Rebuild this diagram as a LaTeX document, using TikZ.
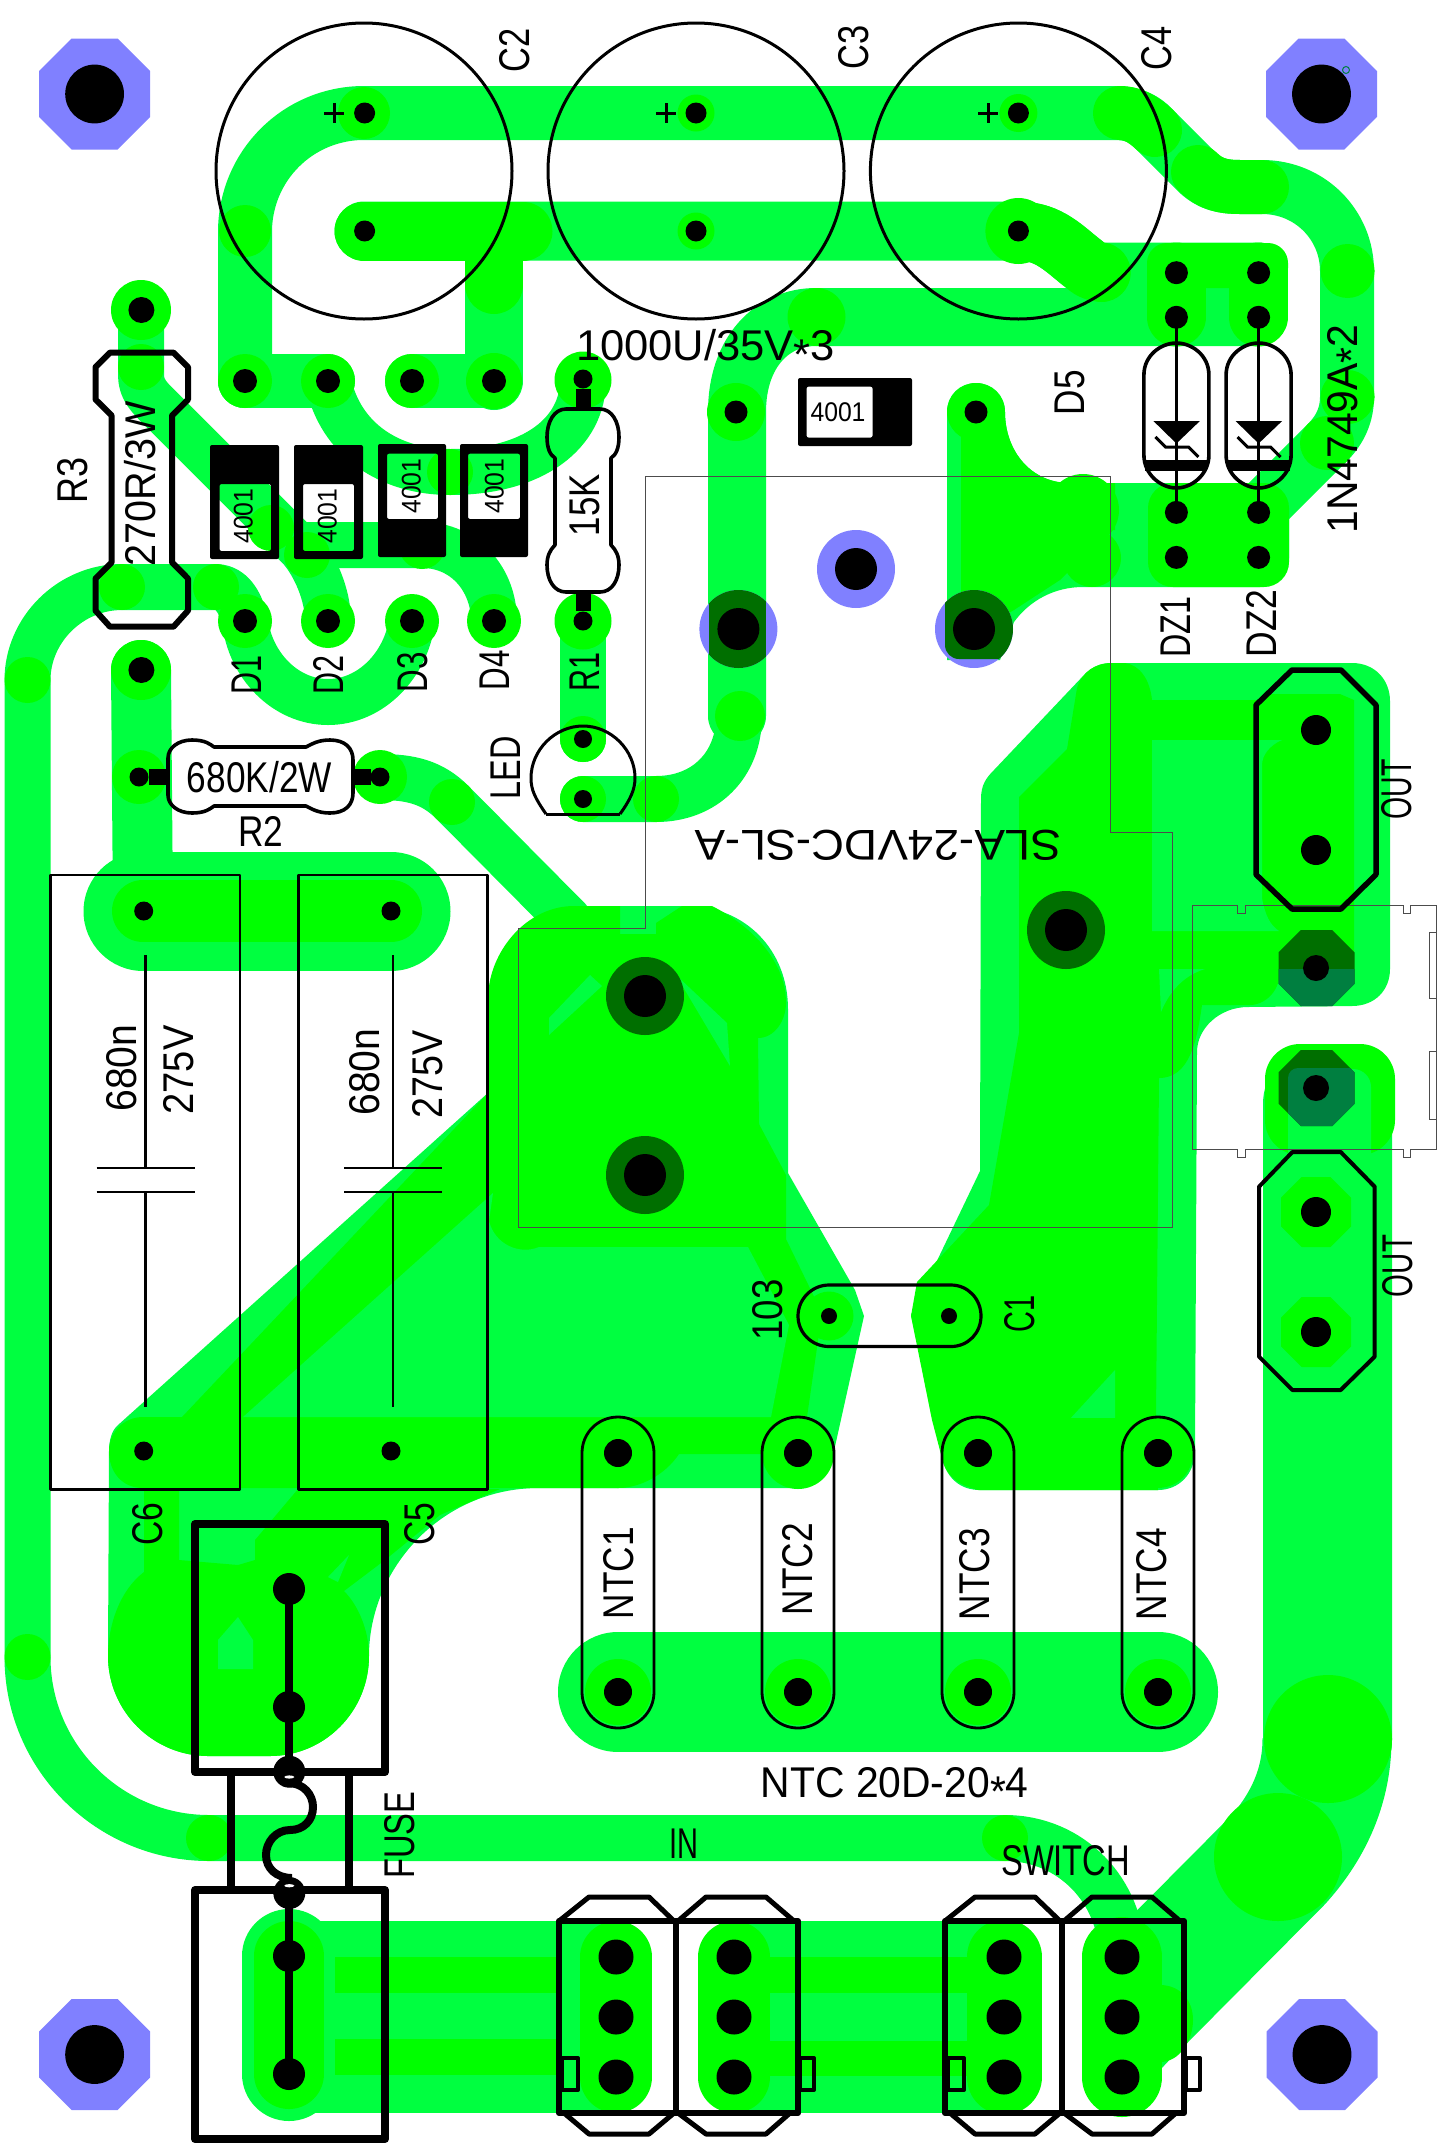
\documentclass[tikz,border=0pt]{standalone}
\usepackage{fontspec}
\usepackage{graphicx}
\setmainfont{Liberation Sans}
\definecolor{lt}{HTML}{00FF40}
\definecolor{dk}{HTML}{00FF00}
\definecolor{bl}{HTML}{8080FF}
\definecolor{ol}{HTML}{006F00}
\definecolor{te}{HTML}{007F40}
\newcommand\fitw[2]{\sbox0{#2}\pgfmathsetmacro\rr{#1/\the\wd0}\scalebox{\rr}[1]{#2}}
% name x y rotation width text
\newcommand\lb[6]{\node[lbl,rotate=#4] (#1) at (#2,#3) {\fitw{#5}{#6}};}
\newcommand\sm[6]{\node[lbls,rotate=#4] (#1) at (#2,#3) {\fitw{#5}{#6}};}
\newcommand\oct[4]{\fill[#4] ({#1-#3},{#2-.414*#3}) -- ({#1-.414*#3},{#2-#3}) -- ({#1+.414*#3},{#2-#3}) -- ({#1+#3},{#2-.414*#3}) -- ({#1+#3},{#2+.414*#3}) -- ({#1+.414*#3},{#2+#3}) -- ({#1-.414*#3},{#2+#3}) -- ({#1-#3},{#2+.414*#3}) -- cycle;}
\newcommand\octclip[3]{\clip ({#1-#3},{#2-.414*#3}) -- ({#1-.414*#3},{#2-#3}) -- ({#1+.414*#3},{#2-#3}) -- ({#1+#3},{#2-.414*#3}) -- ({#1+#3},{#2+.414*#3}) -- ({#1+.414*#3},{#2+#3}) -- ({#1-.414*#3},{#2+#3}) -- ({#1-#3},{#2+.414*#3}) -- cycle;}
\newcommand\diode[8]{\fill[black,rounded corners=2,even odd rule] (#1,#2) rectangle (#3,#4) (#5,#6) rectangle (#7,#8);}
\newcommand\dzs[1]{%
 \draw[line width=3] (#1,317) -- (#1,512);
 \draw[ol3] (#1-32.5,375) .. controls (#1-32.5,355) and (#1-15,343) .. (#1,343) .. controls (#1+15,343) and (#1+32.5,355) .. (#1+32.5,375) -- (#1+32.5,455) .. controls (#1+32.5,475) and (#1+15,488) .. (#1,488) .. controls (#1-15,488) and (#1-32.5,475) .. (#1-32.5,455) -- cycle;
 \fill (#1-31,460) rectangle (#1+31,471);
 \fill (#1-23,421) -- (#1+23.5,421) -- (#1,443.5) -- cycle;
 \draw[line width=3] (#1-21,437) -- (#1-11,447) -- (#1+12,447) -- (#1+22,457);
}
\newcommand\conn{%
 \draw[ol3,line width=6,line join=round] (945,1921) rectangle (1062,2113);
 \draw[ol3,line width=6,line join=round] (1062,1921) rectangle (1184,2113);
 \draw[ol3,line width=5,line join=round] (945,1921) -- (975,1897) -- (1035,1897) -- (1060,1921);
 \draw[ol3,line width=5,line join=round] (1064,1921) -- (1092,1897) -- (1152,1897) -- (1180,1921);
 \draw[ol3,line width=5,line join=round] (950,2113) -- (975,2134) -- (1035,2134) -- (1060,2113);
 \draw[ol3,line width=5,line join=round] (1064,2113) -- (1092,2134) -- (1152,2134) -- (1176,2113);
 \draw[line width=4,line join=round] (948,2058) rectangle (964,2090);
 \draw[line width=4,line join=round] (1186,2058) rectangle (1200,2090);
}
\tikzset{
 tr/.style={draw=lt,line cap=round,line join=round,line width=#1},
 td/.style={draw=dk,line cap=round,line join=round,line width=#1},
 ol3/.style={line width=3.6,line join=round},
 thin1/.style={draw=black!70,line width=1},
 lbl/.style={font=\fontsize{43}{43}\selectfont,inner sep=0pt,text depth=0pt,text height=31pt,text=black},
 lbls/.style={font=\fontsize{27}{27}\selectfont,inner sep=0pt,text depth=0pt,text height=19pt,text=black},
}
\begin{document}
\begin{tikzpicture}[x=1pt,y=-1pt]
\useasboundingbox (0,0) rectangle (1441,2150);
\fill[white] (0,0) rectangle (1441,2150);
% mounting pads
\oct{94.6}{94}{55.5}{bl}
\oct{1321.5}{94}{55.5}{bl}
\oct{94.6}{2054.5}{55.5}{bl}
\oct{1322}{2054.5}{55.5}{bl}
\fill[bl] (856,569) circle (39);
% ===== light copper tracks
\draw[tr=54] (245,381) -- (245,232) .. controls (245,166) and (298,113) .. (364,113) -- (1115,113) .. controls (1128,113) and (1140,116) .. (1150,125) -- (1198,173) .. controls (1210,184) and (1222,187) .. (1240,187) -- (1262,187) .. controls (1310,187) and (1347,225) .. (1347,271) -- (1347,397) .. controls (1347,415) and (1340,430) .. (1327,443) -- (1258,512);
\draw[tr=54] (245,381) -- (328,381);
\draw[tr=54] (412,381) -- (494,381);
\draw[tr=59] (364,231) -- (1018,231) .. controls (1050,231) and (1065,250) .. (1085,265) .. controls (1090,270) and (1095,272) .. (1101,272) -- (1258,272);
\draw[tr=58] (494,381) -- (494,231);
\draw[tr=58] (1258,317) -- (816,317) .. controls (772,317) and (737,352) .. (737,412) -- (737,716);
\draw[tr=46] (739,716) .. controls (739,765) and (705,799) .. (656,799) -- (583,799);
\draw[tr=46] (583,621) -- (583,739);
\draw[tr=46] (328,381) .. controls (340,440) and (390,472) .. (450,472) .. controls (535,472) and (583,432) .. (583,380);
\draw[tr=46] (141,310) -- (141,375) .. controls (141,390) and (150,398) .. (160,408) -- (300,548) .. controls (315,565) and (328,595) .. (328,621);
\draw[tr=46] (307,545) -- (422,545) .. controls (465,545) and (494,580) .. (494,621);
\draw[tr=46] (245,621) .. controls (250,665) and (285,702) .. (328,702) .. controls (371,702) and (406,665) .. (412,621);
\draw[tr=46] (245,621) .. controls (240,600) and (230,587) .. (216,587) -- (122,587) .. controls (70,587) and (27.5,630) .. (27.5,680) -- (27.5,1657) .. controls (27.5,1757) and (109,1838) .. (209,1838) -- (1005,1838) .. controls (1071,1838) and (1122,1891) .. (1122,1957);
\draw[tr=60] (141,670) -- (143,911);
\draw[tr=119] (143,911) -- (391,911);
\draw[tr=46] (380,777) .. controls (410,777) and (432,782) .. (452,802) -- (569,920);
\draw[tr=120] (618,1692) -- (1158,1692);
% left big area
\fill[lt,line join=round] (118,1425) .. controls (112,1430) and (109,1440) .. (109,1451) -- (108,1656) .. controls (108,1711) and (153,1756) .. (208,1756) -- (270,1756) .. controls (325,1756) and (369,1711) .. (369,1656) .. controls (369,1570) and (440,1488) .. (539,1488) -- (799,1488) .. controls (815,1488) and (828,1475) .. (834,1451) -- (864,1316) -- (855,1290) -- (788,1173) -- (788,1009) .. controls (788,950) and (745,906) .. (687,906) -- (585,906) .. controls (530,906) and (489,950) .. (489,998) -- (489,1092) -- cycle;
% right big area
\fill[lt,line join=round] (981,799) .. controls (981,785) and (986,778) .. (994,770) -- (1084,675) .. controls (1092,667) and (1100,663) .. (1112,663) -- (1352,663) .. controls (1375,663) and (1390,680) .. (1390,701) -- (1390,969) .. controls (1390,990) and (1375,1006) .. (1352,1006) -- (1248,1007) .. controls (1220,1007) and (1197,1028) .. (1197,1052) -- (1195,1450) .. controls (1195,1475) and (1178,1490) .. (1158,1490) -- (980,1490) .. controls (960,1490) and (948,1478) .. (943,1462) -- (911,1315) -- (980,1171) -- cycle;
% output track
\fill[lt,rounded corners=60] (1263,1800) -- (1263,1044) -- (1392,1044) -- (1392,1800) -- cycle;
\draw[draw=lt,line width=129,line join=round] (1130,2009) -- (1278,1860) .. controls (1305,1830) and (1327,1790) .. (1327,1739);
\fill[lt] (1175,2054) -- (1160,2070) -- (1160,2040) -- cycle;
\draw[draw=lt,line width=129] (1327,1745) -- (1327,1400);
% fuse / connector bands
\draw[tr=94] (289,1956) -- (289,2074);
\fill[lt] (289,1921) rectangle (616,2113);
\fill[lt] (734,1921) rectangle (1004,2113);
% D5 area
\fill[lt] (947,412) .. controls (947,395) and (960,383) .. (976,383) .. controls (992,383) and (1005,395) .. (1005,412) .. controls (1005,450) and (1030,483) .. (1070,483) -- (1260,483) .. controls (1278,483) and (1289,495) .. (1289,512) -- (1289,558) .. controls (1289,575) and (1278,587) .. (1260,587) -- (1083,587) .. controls (1055,587) and (1030,600) .. (1014,622) -- (1000,660) -- (947,660) -- cycle;
% ===== brighter copper
\draw[td=59] (364,231) -- (523,231);
\draw[td=58] (494,231) -- (494,285);
\draw[td=59] (1018,231) .. controls (1050,231) and (1065,250) .. (1085,265) .. controls (1090,270) and (1095,272) .. (1101,272);
\fill[dk,rounded corners=20] (1147,243) rectangle (1288,288);
\draw[td=59] (1176,272) -- (1176,317);
\draw[td=59] (1258,272) -- (1258,317);
\draw[td=54] (1120,113) .. controls (1132,113) and (1142,118) .. (1155,130);
\draw[td=54] (1198,172) .. controls (1210,184) and (1222,187) .. (1240,187) -- (1262,187);
\draw[td=62] (143,911) -- (391,911);
% dots where tracks meet
\foreach \x/\y/\r in {245/231/26,1347.6/271/27,1347.6/397/27,1327/443/27,816.5/317/29,1101.6/273/29,740/716/25,656/799/23,452/802/23,122/587/23,216/587/23,27.5/680/23,27.5/1657/23,209/1838/23,1005/1838/23,141/367/23,271/528/23,307/555/23,422/546/23,450/472/23,364/113/26,696/113/18.5,1018.4/113/19,696/231/18.5,1018.4/231/33,364/231/29,736/412/29,976/412/29,245/381/27,328/381/27,412/381/27,494/381/28,245/621/27,328/621/27,412/621/27,494/621/27,583/380/28.5,583/621/28.5,141/310/30,141/670/30,139/777/27,380/777/27,583/739/23,583/799/23,618/1692/33,798/1692/33,978/1692/33,1158/1692/33,829/1316/24.5}
 {\fill[dk] (\x,\y) circle (\r);}
% left dark area
\fill[dk,line join=round] (489,986) .. controls (495,945) and (530,906) .. (574,906) -- (620,906) -- (620,934) -- (656,934) -- (656,923) -- (682,906) -- (712,906) .. controls (750,925) and (786,960) .. (786,1003) .. controls (786,1020) and (775,1038) .. (758,1038) -- (759,1124) -- (786,1175) -- (786,1239) -- (822,1313) -- (807,1417) -- (806,1454) -- (679,1454) .. controls (665,1475) and (640,1488) .. (618,1488) -- (559,1488) -- (143,1488) .. controls (122,1488) and (109,1472) .. (109,1451) .. controls (109,1432) and (124,1417) .. (143,1417) -- (182,1417) -- (489,1092) -- cycle;
\fill[lt] (243,1417) -- (493,1193) -- (489,1221) .. controls (495,1245) and (520,1255) .. (539,1247) -- (748,1247) -- (789,1325) -- (771,1417) -- cycle;
\fill[lt] (549,1018) -- (590,975) -- (602,986) -- (549,1035) -- cycle;
\fill[lt] (676,975) -- (727,1023) -- (730,1066) -- cycle;
\fill[dk] (618,1453) circle (35);
\fill[dk] (798,1453) circle (36);
% fuse blob dark
\fill[dk,line join=round] (144,1488) -- (144,1572) .. controls (120,1590) and (108,1625) .. (108,1656) .. controls (108,1711) and (153,1756) .. (208,1756) -- (270,1756) .. controls (325,1756) and (369,1711) .. (369,1656) .. controls (369,1630) and (358,1605) .. (344,1591) -- (385,1560) -- (440,1515) -- (500,1489) -- (298,1489) -- (255,1540) -- (255,1560) -- (238,1565) -- (179,1560) -- (179,1489) -- cycle;
\fill[lt] (218,1669) -- (218,1640) -- (238,1617) -- (253,1640) -- (253,1669) -- cycle;
\fill[lt] (328,1577) -- (349,1555) -- (338,1582) -- cycle;
% right dark area
\fill[dk,line join=round] (1019,797) -- (1067,749) -- (1077,688) .. controls (1082,672) and (1095,663) .. (1112,663) -- (1125,663) .. controls (1140,665) and (1150,680) .. (1152,700) -- (1262,700) -- (1266,694) -- (1340,694) -- (1354,700) -- (1354,969) -- (1279,969) .. controls (1282,990) and (1265,1005) .. (1250,1005) -- (1202,1005) .. controls (1197,1040) and (1190,1078) .. (1159,1078) -- (1156,1416) -- (1158,1490) -- (978,1490) .. controls (960,1485) and (948,1478) .. (943,1462) -- (932,1420) -- (911,1316) -- (917,1282) -- (989,1205) -- (1019,1033) -- cycle;
\fill[lt] (1152,740) -- (1282,740) .. controls (1270,745) and (1262,755) .. (1262,765) -- (1262,898) .. controls (1265,915) and (1270,925) .. (1279,931) -- (1152,931) -- cycle;
\fill[lt] (1159,969) -- (1205,969) .. controls (1185,975) and (1170,990) .. (1161,1012) -- cycle;
\fill[lt] (1115,1370) -- (1069,1420) -- (1115,1420) -- cycle;
\draw[td=70] (978,1453) -- (1158,1453);
% D5 bright
\fill[dk,line join=round] (961,412) -- (1005,412) .. controls (1005,450) and (1030,483) .. (1070,483) -- (1115,483) -- (1115,530) -- (1085,530) -- (1080,560) -- (1060,580) -- (1014,610) -- (961,640) -- cycle;
\fill[dk] (1083,510) circle (36);
\fill[dk] (1092,558) circle (29);
\fill[dk,rounded corners=25] (1148,483) rectangle (1289,587);
% output lower region bright
\fill[dk,rounded corners=35] (1265,1044) rectangle (1395,1155);
\fill[lt,rounded corners=18] (1288,1069) rectangle (1371,1180);
\fill[lt] (1288,1130) rectangle (1371,1180);
% lobes on output track
\fill[dk] (1328,1739) circle (64);
\fill[dk] (1278,1857) circle (64);
\oct{1316}{1212}{35}{dk}
\oct{1316}{1332}{35}{dk}
% connector pads
\draw[td=70] (289,1956) -- (289,2074);
\fill[dk] (335,1957) rectangle (560,1993);
\fill[dk] (335,2039) rectangle (560,2075);
\fill[dk] (770,1957) rectangle (967,1993);
\fill[dk] (770,2041) rectangle (967,2076);
\draw[td=72] (616,1957) -- (616,2077);
\draw[td=72] (734,1957) -- (734,2077);
\draw[td=75] (1004,1957) -- (1004,2077);
\draw[td=80] (1122,1957) -- (1122,2077);
\fill[dk] (1160,1985) .. controls (1180,1985) and (1193,2000) .. (1193,2020) .. controls (1193,2040) and (1180,2062) .. (1160,2062) -- cycle;
% dark-green pads
\foreach \x/\y in {645/996,645/1175,1066/930} {\fill[ol] (\x,\y) circle (39);}
\fill[bl] (738.4,629) circle (39);
\fill[bl] (974,629) circle (39);
\begin{scope}
 \clip (738.4,629) circle (39);
 \fill[ol] (709,580) rectangle (766,680);
\end{scope}
\begin{scope}
 \clip (974,629) circle (39);
 \fill[ol,rounded corners=14] (945,585) rectangle (1013,659);
\end{scope}
\oct{1316.5}{968}{38}{ol}
\begin{scope}
 \octclip{1316.5}{968}{38}
 \fill[te] (1270,969) rectangle (1360,1010);
\end{scope}
\oct{1316.5}{1088}{38}{ol}
\begin{scope}
 \octclip{1316.5}{1088}{38}
 \fill[te,rounded corners=10] (1288,1068) rectangle (1371,1130);
\end{scope}
% ===== drill holes
\foreach \x/\y/\r in {94.6/94/29.4,1321.5/94/29.4,94.6/2054.5/29.4,1322/2054.5/29.4,
 364.6/113/10.5,364.6/231/10.5,696/113/10.5,696/231/10.5,1018.4/113/10.5,1018.4/231/10.5,
 141.4/310/13,141.4/670/13,245/381/12,328/381/12,412/381/12,494/381/12,245/621/12,328/621/12,412/621/12,494/621/12,
 583/379/9.5,583/621/9.5,583/739/9,583/799/9,139/777/9.5,380/777/9.5,
 143.7/911/9.5,391/911/9.5,143.7/1451/9.5,391/1451/9.5,736/412/11.5,976/412/11.5,
 1176.4/272.7/11.5,1176.4/317.3/11.5,1176.4/512.4/11.5,1176.4/557.4/11.5,1258.6/272.7/11.5,1258.6/317.3/11.5,1258.6/512.4/11.5,1258.6/557.4/11.5,
 738.4/629/21,974/629/21,856/569/21,645/996/21,645/1175/21,1066/930/21,
 1316/730/15,1316/850/15,1316/968/13,1316/1088/13,1316/1212/15,1316/1332/15,
 829/1316/8,949/1316/8,
 618/1453/14,798/1453/14,978/1453/14,1158/1453/14,618/1692/14,798/1692/14,978/1692/14,1158/1692/14,
 289/1589/16,289/1707/16,289.3/1771.7/16,289.3/1893/16,289/1956/16,289/2074/16,
 616/1957/17.5,616/2017/17.5,616/2077/17.5,734/1957/17.5,734/2017/17.5,734/2077/17.5,
 1004/1957/17.5,1004/2017/17.5,1004/2077/17.5,1122/1957/17.5,1122/2017/17.5,1122/2077/17.5}
 {\fill[black] (\x,\y) circle (\r);}
\draw[draw=te,line width=1] (1346,70) circle (3.5);
% ===== silkscreen
\foreach \x in {364,696,1018.4} {\draw[line width=3] (\x,171) circle (148);}
\foreach \x in {334,666,988} {\draw[line width=3] (\x-10,113) -- (\x+10,113) (\x,103) -- (\x,123);}
% R3
\draw[line width=6,line join=round] (110,352.6) -- (173.5,352.6) -- (188,367) -- (188,399.5) -- (172,415.5) -- (172,562.4) -- (188,578.5) -- (188,610.6) -- (173.5,626.7) -- (110,626.7) -- (95.5,610.6) -- (95.5,578.5) -- (111.6,562.4) -- (111.6,415.5) -- (95.5,399.5) -- (95.5,367) -- cycle;
% diodes
\diode{210}{445}{279}{559}{219.5}{484}{271}{551}
\diode{294}{445}{363}{559}{303}{484}{354}{551}
\diode{378}{444}{446}{557}{387}{453.6}{438}{519}
\diode{460}{444}{528}{557}{468}{453.6}{520}{519}
\diode{798}{378}{912}{446}{806.5}{386.6}{872.6}{437.6}
% R1 dogbone
\draw[line width=3.6,line join=round] (566,409) -- (600,409) .. controls (612,409) and (619,422) .. (619,437) .. controls (619,448) and (616,455) .. (611,458) -- (611,545) .. controls (616,550) and (619,556) .. (619,565) .. controls (619,580) and (612,592) .. (600,592) -- (566,592) .. controls (554,592) and (547,580) .. (547,565) .. controls (547,556) and (550,550) .. (555,545) -- (555,458) .. controls (550,455) and (547,448) .. (547,437) .. controls (547,422) and (554,409) .. (566,409) -- cycle;
\fill (576,389) rectangle (591,409);
\fill (576,592) rectangle (591,611);
% R2 dogbone
\draw[line width=3.6,line join=round] (168,758) .. controls (168,748) and (178,740) .. (192,740) .. controls (205,740) and (210,744) .. (214,747) -- (306,747) .. controls (312,744) and (318,740) .. (330,740) .. controls (345,740) and (353,748) .. (353,760) -- (353,793) .. controls (353,805) and (345,813) .. (330,813) .. controls (318,813) and (312,809) .. (306,806) -- (214,806) .. controls (210,809) and (205,813) .. (192,813) .. controls (178,813) and (168,805) .. (168,795) -- cycle;
\fill (149,769) rectangle (168,785);
\fill (353,769) rectangle (371,785);
% DZ
\dzs{1176.4}
\dzs{1258.6}
% LED
\draw[line width=3] (546,814) -- (620,814);
\draw[line width=3] (546,814) .. controls (535,798) and (531,790) .. (531,778) .. controls (531,750) and (555,726) .. (583,726) .. controls (611,726) and (635,750) .. (635,778) .. controls (635,790) and (630,800) .. (620,814);
% Caps
\foreach \x/\xa/\xb in {50.5/240/145.5,298.4/487.6/393}
{\draw[line width=2.8,line join=round] (\x,875) rectangle (\xa,1489.5);
 \draw[line width=2.8] (\xb,955) -- (\xb,1168) (\xb,1192) -- (\xb,1407);
 \draw[line width=2.8] (\xb-49,1168) -- (\xb+49,1168) (\xb-49,1192) -- (\xb+49,1192);}
% Relay outline
\draw[thin1] (645.5,476) -- (1110,476) -- (1110,832) -- (1172,832) -- (1172,1227) -- (518,1227) -- (518,928.6) -- (645.5,928.6) -- cycle;
% small connector
\draw[thin1] (1192,905) -- (1237,905) -- (1237,913) -- (1245.5,913) -- (1245.5,905) -- (1403,905) -- (1403,913) -- (1410.6,913) -- (1410.6,905) -- (1436,905) -- (1436,1149) -- (1410.6,1149) -- (1410.6,1157) -- (1403,1157) -- (1403,1149) -- (1245.5,1149) -- (1245.5,1157) -- (1237,1157) -- (1237,1149) -- (1192,1149) -- cycle;
\draw[thin1] (1436,932) -- (1429,932) -- (1429,998) -- (1436,998);
\draw[thin1] (1436,1051) -- (1429,1051) -- (1429,1119) -- (1436,1119);
% OUT octagons
\draw[line width=5.5,line join=round] (1292,670) -- (1341,670) -- (1376,705) -- (1376,874.5) -- (1341,909) -- (1292,909) -- (1256,874.5) -- (1256,705) -- cycle;
\draw[line width=4,line join=round] (1292.4,1152) -- (1340.7,1152) -- (1374.7,1186.7) -- (1374.7,1356.6) -- (1340.7,1390) -- (1292.4,1390) -- (1259,1356.6) -- (1259,1186.7) -- cycle;
% C1 stadium
\draw[line width=3.2] (829,1285) -- (951,1285) .. controls (968,1285) and (981,1299) .. (981,1316) .. controls (981,1333) and (968,1346.5) .. (951,1346.5) -- (829,1346.5) .. controls (812,1346.5) and (798,1333) .. (798,1316) .. controls (798,1299) and (812,1285) .. (829,1285) -- cycle;
% NTC stadiums
\foreach \x in {618,798,978,1158}
{\draw[line width=2.8] (\x-36,1453) .. controls (\x-36,1433) and (\x-20,1417) .. (\x,1417) .. controls (\x+20,1417) and (\x+36,1433) .. (\x+36,1453) -- (\x+36,1692) .. controls (\x+36,1712) and (\x+20,1728) .. (\x,1728) .. controls (\x-20,1728) and (\x-36,1712) .. (\x-36,1692) -- cycle;}
% fuse
\draw[line width=8,line join=round] (195,1524) rectangle (385,1772);
\draw[line width=8,line join=round] (195,1890) rectangle (385,2139);
\draw[line width=8] (231,1772) -- (231,1890) (349,1772) -- (349,1890);
\draw[line width=8] (289,1589) -- (289,1771);
\draw[line width=8] (289,1892) -- (289,2074);
\draw[line width=8] (288,1783) .. controls (304,1783) and (313,1795) .. (313,1807) .. controls (313,1820) and (304,1830) .. (290,1830) .. controls (276,1830) and (266,1842) .. (266,1855) .. controls (266,1868) and (276,1878) .. (292,1878);
\fill[white] (289.3,1777) ellipse (5 and 1.6);
\fill[white] (289.3,1885.7) ellipse (5 and 1.6);
% connectors
\conn
\begin{scope}[shift={(-386,0)}]
\conn
\end{scope}
% ===== labels
\lb{t1}{514}{50}{90}{44}{C2}
\lb{t2}{853}{47}{90}{44}{C3}
\lb{t3}{1156}{48}{90}{44}{C4}
\lb{t4}{72}{480}{90}{46}{R3}
\lb{t5}{140}{484}{90}{165}{270R/3W}
\sm{t6}{243}{516}{90}{55}{4001}
\sm{t7}{327}{516}{90}{55}{4001}
\sm{t8}{411}{486}{90}{55}{4001}
\sm{t9}{494}{486}{90}{55}{4001}
\sm{t10}{838}{412}{0}{55}{4001}
\lb{t11}{584}{505}{90}{62}{15K}
\lb{t12}{705.5}{345}{0}{259}{1000U/35V\raisebox{-.22em}{*}3}
\lb{t13}{245.6}{675}{90}{39}{D1}
\lb{t14}{328}{675}{90}{39}{D2}
\lb{t15}{412}{672}{90}{40}{D3}
\lb{t16}{494}{670}{90}{40}{D4}
\lb{t17}{584}{672}{90}{39}{R1}
\lb{t18}{1068.5}{392.6}{90}{45}{D5}
\lb{t19}{1175}{627}{90}{61}{DZ1}
\lb{t20}{1261}{623.5}{90}{67}{DZ2}
\lb{t21}{1341.6}{429}{90}{209}{1N4749A\raisebox{-.22em}{*}2}
\lb{t22}{505}{768}{90}{63}{LED}
\lb{t23}{259.4}{776.7}{0}{145}{680K/2W}
\lb{t24}{261}{831}{0}{45}{R2}
\lb{t25}{121}{1068}{90}{87}{680n}
\lb{t26}{178}{1070}{90}{89}{275V}
\lb{t27}{364}{1072}{90}{87}{680n}
\lb{t28}{427}{1074}{90}{88}{275V}
\lb{t29}{147}{1524}{90}{43}{C6}
\lb{t30}{419}{1524}{90}{43}{C5}
\lb{t31}{399.4}{1835}{90}{87}{FUSE}
\lb{t32}{684}{1842.6}{0}{29}{IN}
\lb{t33}{618}{1573}{90}{92}{NTC1}
\lb{t34}{797}{1569}{90}{92}{NTC2}
\lb{t35}{974}{1574}{90}{92}{NTC3}
\lb{t36}{1151}{1574}{90}{92}{NTC4}
\lb{t37}{894.7}{1782}{0}{268}{NTC 20D-20\raisebox{-.22em}{*}4}
\lb{t38}{1065.7}{1860}{0}{129}{SWITCH}
\lb{t39}{878}{846}{180}{366}{SLA-24VDC-SL-A}
\lb{t40}{767}{1310}{90}{61}{103}
\lb{t41}{1019}{1314}{90}{37}{C1}
\lb{t42}{1396}{789.5}{90}{60}{OUT}
\lb{t43}{1397}{1266}{90}{62}{OUT}
\end{tikzpicture}
\end{document}
